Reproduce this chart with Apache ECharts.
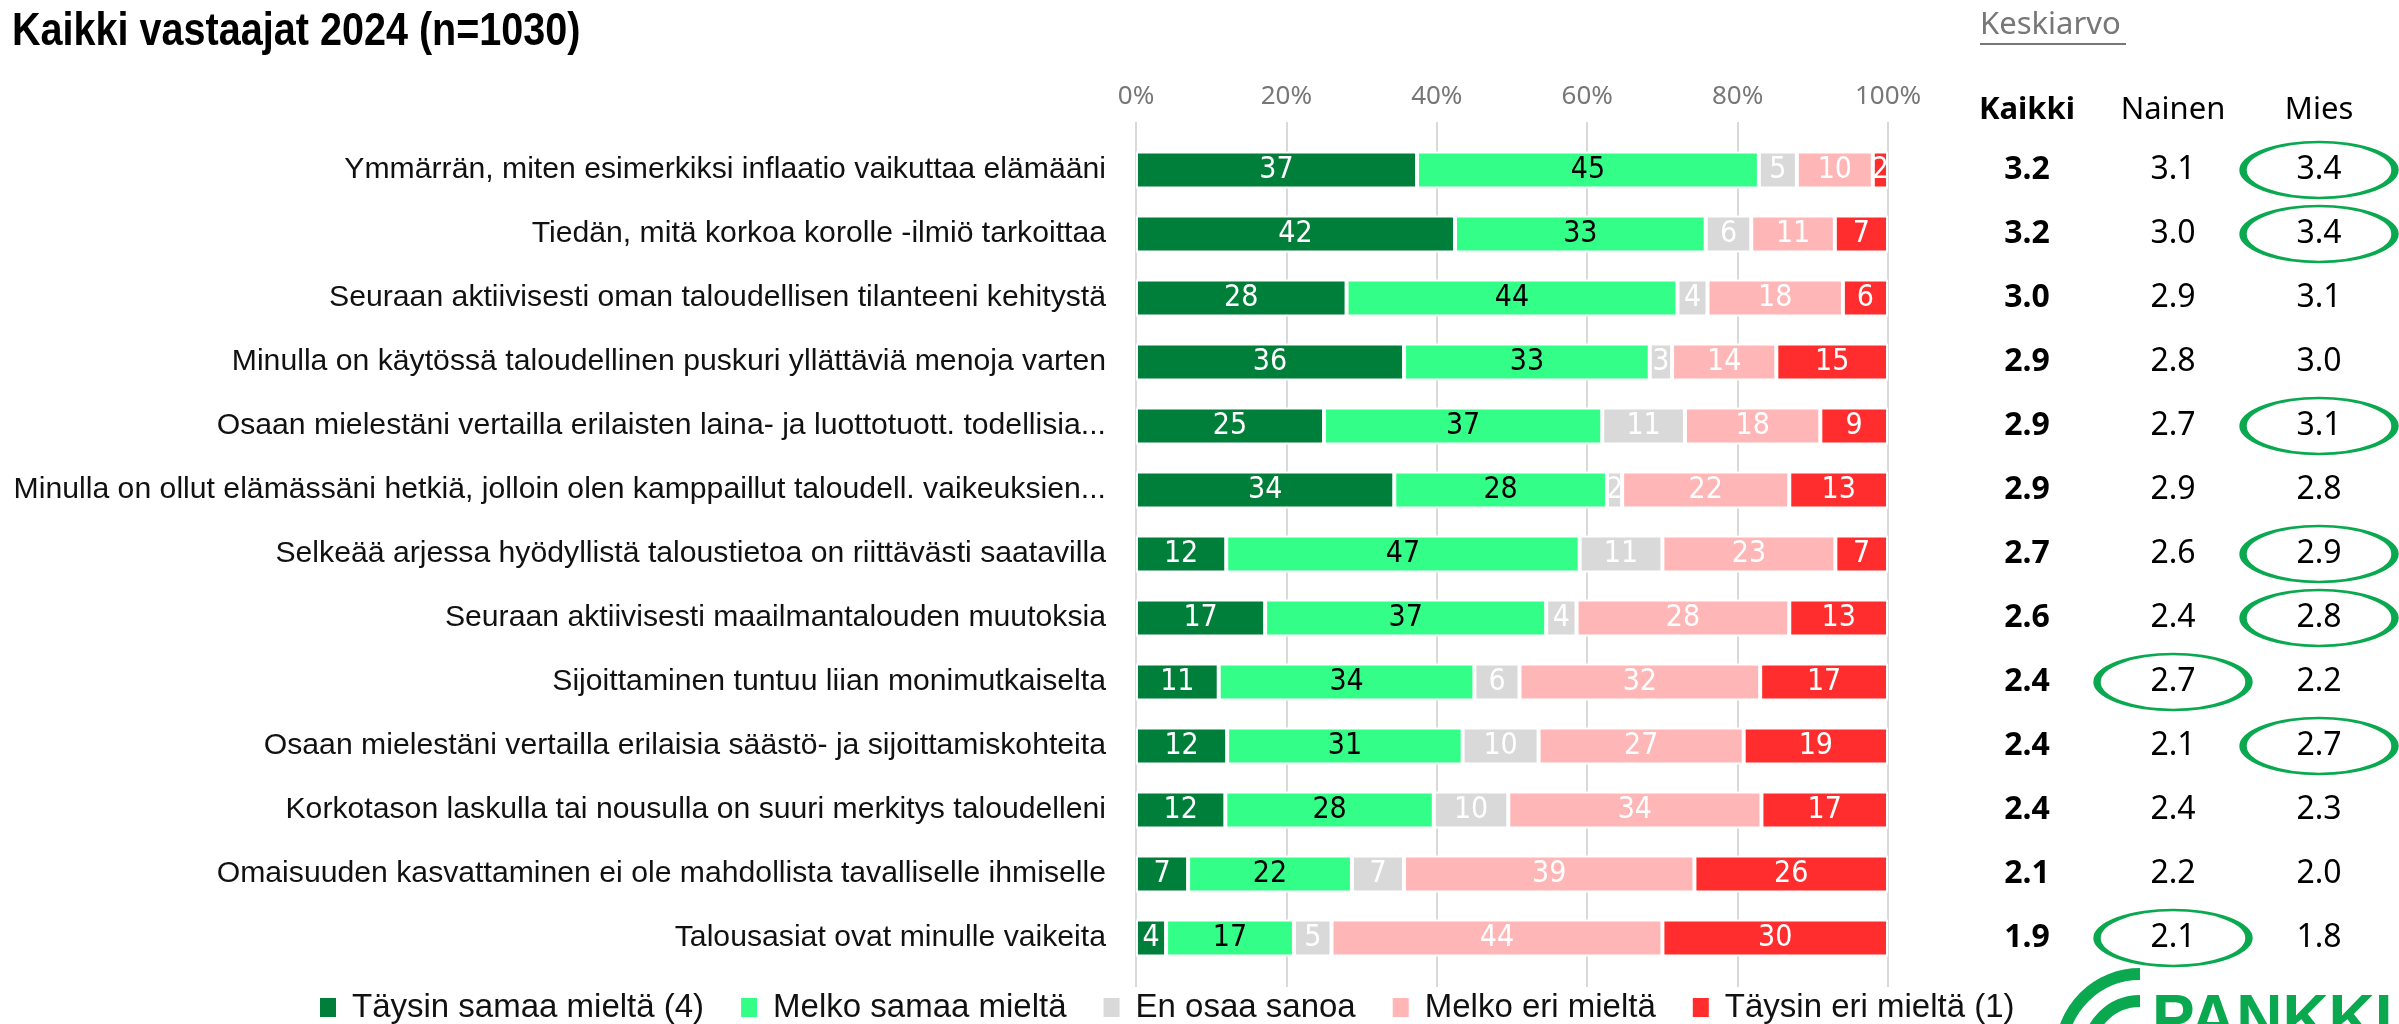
<!DOCTYPE html>
<html>
<head>
<meta charset="utf-8">
<script src="https://cdn.jsdelivr.net/npm/echarts@6/dist/echarts.min.js"></script>
<style>
  html, body { margin: 0; padding: 0; background: #ffffff; }
  #chart { width: 2399px; height: 1024px; }
</style>
</head>
<body>
<div id="chart"></div>
<script>
// ── Data ─────────────────────────────────────────────────────────────────────
var questions = [
  'Ymmärrän, miten esimerkiksi inflaatio vaikuttaa elämääni',
  'Tiedän, mitä korkoa korolle -ilmiö tarkoittaa',
  'Seuraan aktiivisesti oman taloudellisen tilanteeni kehitystä',
  'Minulla on käytössä taloudellinen puskuri yllättäviä menoja varten',
  'Osaan mielestäni vertailla erilaisten laina- ja luottotuott. todellisia...',
  'Minulla on ollut elämässäni hetkiä, jolloin olen kamppaillut taloudell. vaikeuksien...',
  'Selkeää arjessa hyödyllistä taloustietoa on riittävästi saatavilla',
  'Seuraan aktiivisesti maailmantalouden muutoksia',
  'Sijoittaminen tuntuu liian monimutkaiselta',
  'Osaan mielestäni vertailla erilaisia säästö- ja sijoittamiskohteita',
  'Korkotason laskulla tai nousulla on suuri merkitys taloudelleni',
  'Omaisuuden kasvattaminen ei ole mahdollista tavalliselle ihmiselle',
  'Talousasiat ovat minulle vaikeita'
];
var seriesNames = ['Täysin samaa mieltä (4)', 'Melko samaa mieltä', 'En osaa sanoa', 'Melko eri mieltä', 'Täysin eri mieltä (1)'];
var taysinSamaa = [37, 42, 28, 36, 25, 34, 12, 17, 11, 12, 12, 7, 4];
var melkoSamaa  = [45, 33, 44, 33, 37, 28, 47, 37, 34, 31, 28, 22, 17];
var eiOsaa      = [5, 6, 4, 3, 11, 2, 11, 4, 6, 10, 10, 7, 5];
var melkoEri    = [10, 11, 18, 14, 18, 22, 23, 28, 32, 27, 34, 39, 44];
var taysinEri   = [2, 7, 6, 15, 9, 13, 7, 13, 17, 19, 17, 26, 30];
var axisTicks = ['0%', '20%', '40%', '60%', '80%', '100%'];

var tableCols = ['Kaikki', 'Nainen', 'Mies'];
var kaikki = ['3.2', '3.2', '3.0', '2.9', '2.9', '2.9', '2.7', '2.6', '2.4', '2.4', '2.4', '2.1', '1.9'];
var nainen = ['3.1', '3.0', '2.9', '2.8', '2.7', '2.9', '2.6', '2.4', '2.7', '2.1', '2.4', '2.2', '2.1'];
var mies   = ['3.4', '3.4', '3.1', '3.0', '3.1', '2.8', '2.9', '2.8', '2.2', '2.7', '2.3', '2.0', '1.8'];
var circledNainen = [8, 12];
var circledMies = [0, 1, 4, 6, 7, 9];

// ── Styles ───────────────────────────────────────────────────────────────────
var fillColors  = ['#007f3a', '#33ff88', '#d9d9d9', '#ffb6b6', '#ff2d2d'];
var labelColors = ['#ffffff', '#000000', '#ffffff', '#ffffff', '#ffffff'];
var sans = '"Liberation Sans", Arial, sans-serif';
var cond = '"DejaVu Sans Condensed", "DejaVu Sans", sans-serif';
var plex = '"Noto Sans", "Open Sans", sans-serif';
var ringGreen = '#0aa84f';

var raw = [taysinSamaa, melkoSamaa, eiOsaa, melkoEri, taysinEri];
var totals = questions.map(function (q, i) {
  return raw.reduce(function (s, arr) { return s + arr[i]; }, 0);
});

var barSeries = raw.map(function (arr, k) {
  return {
    name: seriesNames[k],
    type: 'bar',
    stack: 'all',
    xAxisIndex: 1,
    yAxisIndex: 1,
    barWidth: 37,
    z: 3,
    itemStyle: { color: fillColors[k], borderColor: '#ffffff', borderWidth: 2 },
    label: {
      show: true,
      position: 'inside',
      color: labelColors[k],
      fontFamily: cond,
      fontSize: 30,
      formatter: function (p) { return p.data.raw; }
    },
    data: arr.map(function (v, i) {
      return { value: v * 100 / totals[i], raw: v };
    })
  };
});

function cells(col, values) {
  return values.map(function (v, i) { return { value: [col, i], txt: v }; });
}
function rings(col, rows) {
  return rows.map(function (i) { return { value: [col, i] }; });
}

var tableText = {
  type: 'scatter',
  xAxisIndex: 2,
  yAxisIndex: 2,
  symbolSize: 0,
  silent: true,
  z: 5,
  itemStyle: { opacity: 1 },
  label: {
    show: true,
    position: 'inside',
    opacity: 1,
    formatter: function (p) {
      return p.data.value[0] === 0 ? '{b|' + p.data.txt + '}' : p.data.txt;
    },
    color: '#000000',
    fontFamily: plex,
    fontSize: 32,
    rich: { b: { fontFamily: plex, fontSize: 32, fontWeight: 'bold', color: '#000000' } }
  },
  data: cells(0, kaikki).concat(cells(1, nainen), cells(2, mies))
};

var tableRings = {
  type: 'scatter',
  xAxisIndex: 2,
  yAxisIndex: 2,
  symbol: 'circle',
  symbolSize: [152, 56],
  silent: true,
  z: 4,
  itemStyle: { color: 'rgba(0,0,0,0)', borderColor: ringGreen, borderWidth: 4.5, opacity: 1 },
  data: rings(1, circledNainen).concat(rings(2, circledMies))
};

var option = {
  backgroundColor: '#ffffff',
  animation: false,
  title: {
    text: 'Keskiarvo',
    left: 1976,
    top: 10,
    padding: [0, 4],
    textStyle: { fontFamily: plex, fontWeight: 'normal', fontSize: 31, color: '#777777' }
  },
  graphic: [
    {
      type: 'text', x: 12, y: 9, scaleX: 0.86,
      style: {
        text: 'Kaikki vastaajat 2024 (n=1030)',
        fontFamily: sans, fontWeight: 'bold', fontSize: 46, fill: '#000000', verticalAlign: 'top'
      }
    },
    { type: 'rect', x: 1980, y: 43, shape: { width: 146, height: 2 }, style: { fill: '#777777' } },
    { type: 'arc', shape: { cx: 2140, cy: 1053, r: 79, startAngle: Math.PI, endAngle: Math.PI * 1.5 },
      style: { stroke: ringGreen, lineWidth: 12, fill: null } },
    { type: 'arc', shape: { cx: 2140, cy: 1053, r: 52, startAngle: Math.PI, endAngle: Math.PI * 1.5 },
      style: { stroke: ringGreen, lineWidth: 12, fill: null } },
    { type: 'text', x: 2152, y: 990,
      style: { text: 'PANKKI', fontFamily: sans, fontWeight: 'bold', fontSize: 64, fill: ringGreen, verticalAlign: 'top' } }
  ],
  legend: {
    data: seriesNames,
    bottom: 0,
    left: 318,
    padding: 0,
    icon: 'rect',
    itemWidth: 18,
    itemHeight: 21,
    itemGap: 35,
    textStyle: { fontFamily: sans, fontSize: 33, color: '#111111', padding: [0, 0, 0, 10] }
  },
  grid: [
    { left: 1136, width: 752, top: 122, height: 865, outerBoundsMode: 'none', containLabel: false },
    { left: 1136, width: 752, top: 138, height: 832, outerBoundsMode: 'none', containLabel: false },
    { left: 1954, width: 438, top: 138, height: 832, outerBoundsMode: 'none', containLabel: false }
  ],
  xAxis: [{
    gridIndex: 0,
    type: 'value',
    position: 'top',
    min: 0,
    max: 100,
    interval: 20,
    axisLine: { show: false },
    axisTick: { show: false },
    axisLabel: {
      color: '#777777', fontFamily: plex, fontSize: 26, margin: 12,
      formatter: function (v) { return axisTicks[v / 20]; }
    },
    splitLine: { show: true, lineStyle: { color: '#d9d9d9', width: 2 } }
  }, {
    gridIndex: 1,
    type: 'value',
    min: 0,
    max: 100,
    show: false
  }, {
    gridIndex: 2,
    type: 'category',
    position: 'top',
    data: tableCols,
    axisLine: { show: false },
    axisTick: { show: false },
    axisLabel: {
      interval: 0,
      margin: 12,
      color: '#000000',
      fontFamily: plex,
      fontSize: 31,
      formatter: function (v) { return v === 'Kaikki' ? '{b|' + v + '}' : v; },
      rich: { b: { fontFamily: plex, fontSize: 31, fontWeight: 'bold', color: '#000000' } }
    }
  }],
  yAxis: [{
    gridIndex: 0,
    type: 'value',
    show: false
  }, {
    gridIndex: 1,
    type: 'category',
    inverse: true,
    data: questions,
    axisLine: { show: false },
    axisTick: { show: false },
    axisLabel: { interval: 0, color: '#111111', fontFamily: sans, fontSize: 30.2, margin: 30 }
  }, {
    gridIndex: 2,
    type: 'category',
    inverse: true,
    data: questions.map(function (q, i) { return i; }),
    show: false
  }],
  series: barSeries.concat([tableRings, tableText])
};

var chart = echarts.init(document.getElementById('chart'), null, { renderer: 'canvas' });
chart.setOption(option);
window.addEventListener('resize', function () { chart.resize(); });
</script>
</body>
</html>
